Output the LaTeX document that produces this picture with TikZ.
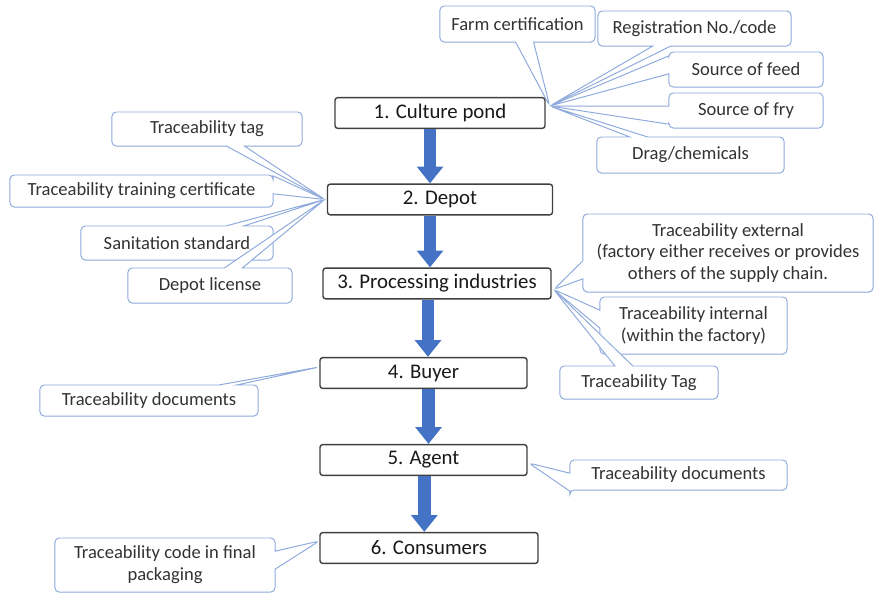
\documentclass[tikz,border=0pt]{standalone}
\usepackage{fontspec}
\setmainfont{Carlito}
\usetikzlibrary{shapes.callouts,arrows.meta,calc}
\definecolor{flowblue}{HTML}{4472C4}
\definecolor{noteline}{HTML}{8FAADC}
\definecolor{notetext}{HTML}{333333}

\begin{document}
\begin{tikzpicture}[
    x=0.025cm, y=-0.025cm,
    stage/.style={rectangle, draw=black!75, line width=1pt, rounded corners=2pt, fill=white,
        minimum height=0.77cm, font=\fontsize{14.8}{17}\selectfont, text=black!90},
    flow/.style={draw=flowblue, line width=0.32cm, -{Triangle[width=0.64cm,length=0.42cm]}},
    note/.style={rectangle callout, draw=noteline, line width=0.7pt, rounded corners=3pt, fill=white,
        text=notetext, font=\fontsize{13.2}{15.5}\selectfont, align=center,
        callout pointer width=0.45cm, inner sep=1pt},
]
\useasboundingbox (0,0) rectangle (874,594);

% Stadi della filiera
\node[stage, minimum width=5.25cm]  (pond)  at (440,113) {1. Culture pond};
\node[stage, minimum width=5.625cm] (depot) at (440,199.5) {2. Depot};
\node[stage, minimum width=5.7cm]   (proc)  at (437,283.5) {3. Processing industries};
\node[stage, minimum width=5.175cm] (buyer) at (423.5,373) {4. Buyer};
\node[stage, minimum width=5.175cm] (agent) at (423.5,460) {5. Agent};
\node[stage, minimum width=5.45cm]  (cons)  at (429,548) {6. Consumers};

% Punte dei richiami
\coordinate (tpond)  at ($(pond.east)+(4,-7)$);
\coordinate (tdepot) at ($(depot.west)+(-2,0)$);
\coordinate (tproc)  at ($(proc.east)+(2,6)$);
\coordinate (tbuyer) at ($(buyer.west)+(0,-6)$);
\coordinate (tagent) at ($(agent.east)+(1,3)$);
\coordinate (tcons)  at ($(cons.west)+(0,-7)$);

% Culture pond
\node[note, callout absolute pointer={(tpond)}, minimum width=3.875cm, minimum height=0.9cm]
    (farm) at (517.5,24) {Farm certification};
\node[note, callout absolute pointer={(tpond)}, minimum width=4.825cm, minimum height=0.875cm]
    (reg) at (694.5,28.5) {Registration No./code};
\node[note, callout absolute pointer={(tpond)}, minimum width=3.85cm, minimum height=0.875cm]
    (feed) at (746,69.5) {Source of feed};
\node[note, callout absolute pointer={(tpond)}, minimum width=3.85cm, minimum height=0.875cm]
    (fry) at (746,110.5) {Source of fry};
\node[note, callout absolute pointer={(tpond)}, minimum width=4.675cm, minimum height=0.9cm]
    (drag) at (690.5,155) {Drag/chemicals};

% Depot
\node[note, callout absolute pointer={(tdepot)}, minimum width=4.75cm, minimum height=0.85cm]
    (dtag) at (207,129) {Traceability tag};
\node[note, callout absolute pointer={(tdepot)}, minimum width=6.575cm, minimum height=0.8cm]
    (train) at (141.5,191) {Traceability training certificate};
\node[note, callout absolute pointer={(tdepot)}, minimum width=4.8cm, minimum height=0.85cm]
    (sanit) at (177,243) {Sanitation standard};
\node[note, callout absolute pointer={(tdepot)}, minimum width=4.1cm, minimum height=0.875cm]
    (lic) at (210,285.5) {Depot license};

% Processing industries
\node[note, callout absolute pointer={(tproc)}, minimum width=7.25cm, minimum height=1.95cm]
    (ext) at (728,253) {Traceability external\\(factory either receives or provides\\others of the supply chain.};
\node[note, callout absolute pointer={(tproc)}, minimum width=4.675cm, minimum height=1.425cm]
    (int) at (693.5,325.5) {Traceability internal\\(within the factory)};
\node[note, callout absolute pointer={(tproc)}, minimum width=3.95cm, minimum height=0.825cm]
    (ptag) at (639,382.5) {Traceability Tag};

% Buyer, agent, consumers
\node[note, callout absolute pointer={(tbuyer)}, minimum width=5.45cm, minimum height=0.775cm]
    (bdoc) at (149,400.5) {Traceability documents};
\node[note, callout absolute pointer={(tagent)}, minimum width=5.425cm, minimum height=0.75cm]
    (adoc) at (678.5,475) {Traceability documents};
\node[note, callout absolute pointer={(tcons)}, minimum width=5.5cm, minimum height=1.35cm]
    (code) at (165,565) {Traceability code in final\\packaging};

% Frecce
\draw[flow] ([xshift=-0.25cm]pond.south) -- ([xshift=-0.25cm]pond.south |- depot.north);
\draw[flow] ([xshift=-0.25cm]depot.south) -- ([xshift=-0.25cm]depot.south |- proc.north);
\draw[flow] ([xshift=-0.225cm]proc.south) -- ([xshift=-0.225cm]proc.south |- buyer.north);
\draw[flow] ([xshift=0.125cm]buyer.south) -- ([xshift=0.125cm]buyer.south |- agent.north);
\draw[flow] ([xshift=0.02cm]agent.south) -- ([xshift=0.02cm]agent.south |- cons.north);

\end{tikzpicture}
\end{document}
